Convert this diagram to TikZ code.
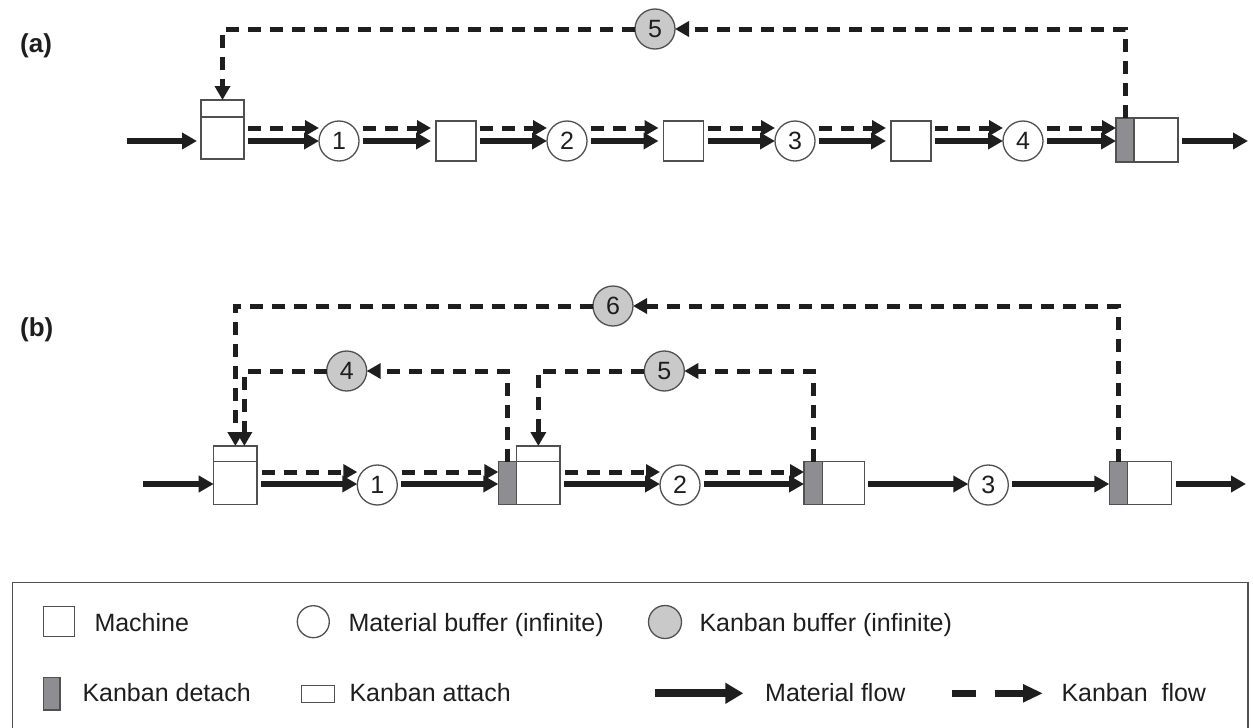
\documentclass[tikz,border=0pt]{standalone}
\usepackage{fontspec}
\setmainfont{Liberation Sans}
\usetikzlibrary{arrows.meta}
\definecolor{ink}{HTML}{1E1E1E}
\definecolor{edgegray}{HTML}{505050}
\definecolor{detachgray}{HTML}{8E8E92}
\definecolor{kbgray}{HTML}{C9C9C9}
\begin{document}
\begin{tikzpicture}[x=1pt,y=-1pt,
  machine/.style={draw=edgegray, line width=1.5pt, fill=white, inner sep=0pt, outer sep=0pt},
  detachbox/.style={machine, fill=detachgray},
  mbuf/.style={circle, draw=edgegray, line width=1.3pt, fill=white, minimum size=40pt,
    inner sep=0pt, outer sep=0pt, text=ink, font=\fontsize{25}{25}\selectfont},
  kbuf/.style={mbuf, fill=kbgray},
  mat/.style={draw=ink, line width=5.4pt, -{Triangle[length=15pt,width=16pt]}, shorten <=4pt},
  kan/.style={draw=ink, line width=5pt, dash pattern=on 13pt off 9pt,
    -{Triangle[length=14pt,width=15pt]}},
  kanloop/.style={kan, shorten <=0pt},
  ltext/.style={anchor=base west, inner sep=0pt, text=ink, font=\fontsize{25}{30}\selectfont},
  tag/.style={anchor=base west, inner sep=0pt, text=ink, font=\fontsize{26}{30}\selectfont\bfseries},
  legendframe/.style={draw=edgegray, line width=1.4pt}]
\useasboundingbox (0,0) rectangle (1253,728);

% ---------------- (a) single-stage kanban loop ----------------
\node[tag] (taga) at (20,52) {(a)};
\coordinate (ma) at (0,141);
\coordinate (ka) at (0,128);

\node[machine, minimum width=43pt, minimum height=42pt] (M1a) at (222.5,138) {};
\node[machine, minimum width=43pt, minimum height=17pt] (A1a) at (222.5,108.5) {};
\node[mbuf] (C1a) at (339,141) {1};
\node[machine, minimum width=40pt, minimum height=40pt] (M2a) at (456,141) {};
\node[mbuf] (C2a) at (567,141) {2};
\node[machine, minimum width=40pt, minimum height=40pt] (M3a) at (683.5,141) {};
\node[mbuf] (C3a) at (795,141) {3};
\node[machine, minimum width=40pt, minimum height=40pt] (M4a) at (911,141) {};
\node[mbuf] (C4a) at (1023,141) {4};
\node[detachbox, minimum width=18pt, minimum height=44pt] (D5a) at (1125,140) {};
\node[machine, minimum width=44pt, minimum height=44pt] (M5a) at (1156,140) {};
\node[kbuf] (K5a) at (655,29) {5};

\coordinate (ina) at (127,141);
\coordinate (outa) at (1248,141);

\draw[mat, shorten <=0pt, shorten >=4pt] (ina) -- (ina -| M1a.west);
\foreach \s/\t/\g in {M1a/C1a/0, C1a/M2a/5, M2a/C2a/0, C2a/M3a/5, M3a/C3a/0, C3a/M4a/5, M4a/C4a/0, C4a/D5a/0}{
  \draw[mat, shorten >=\g pt] (\s.east |- ma) -- (\t.west |- ma);
  \draw[kan, shorten <=4pt, shorten >=\g pt] (\s.east |- ka) -- (\t.west |- ka);
}
\draw[mat] (M5a.east |- ma) -- (outa);

\draw[kanloop] (D5a.north) |- (K5a.east);
\draw[kanloop] (K5a.west) -| (A1a.north);

% ---------------- (b) multi-stage kanban loops ----------------
\node[tag] (tagb) at (20,336) {(b)};
\coordinate (mb) at (0,484);
\coordinate (kb) at (0,472);

\node[machine, minimum width=43.3pt, minimum height=42.6pt] (M1b) at (235.35,483) {};
\node[machine, minimum width=43.3pt, minimum height=15.7pt] (A1b) at (235.35,453.85) {};
\node[mbuf] (C1b) at (377.3,485) {1};
\node[detachbox, minimum width=18.4pt, minimum height=42.6pt] (D2b) at (507.5,483) {};
\node[machine, minimum width=43.3pt, minimum height=42.6pt] (M2b) at (538.35,483) {};
\node[machine, minimum width=43.3pt, minimum height=15.7pt] (A2b) at (538.35,453.85) {};
\node[mbuf] (C2b) at (680,485) {2};
\node[detachbox, minimum width=18.7pt, minimum height=42.6pt] (D3b) at (813.35,483) {};
\node[machine, minimum width=41.6pt, minimum height=42.6pt] (M3b) at (843.5,483) {};
\node[mbuf] (C3b) at (988.3,485) {3};
\node[detachbox, minimum width=18.4pt, minimum height=42.6pt] (D4b) at (1118.5,483) {};
\node[machine, minimum width=44pt, minimum height=42.6pt] (M4b) at (1149.7,483) {};
\node[kbuf] (K4b) at (346.7,371) {4};
\node[kbuf] (K5b) at (664.3,371) {5};
\node[kbuf] (K6b) at (613,306) {6};

\coordinate (inb) at (143,484);
\coordinate (outb) at (1246,484);

\draw[mat, shorten <=0pt] (inb) -- (inb -| M1b.west);
\foreach \s/\t in {M1b/C1b, C1b/D2b, M2b/C2b, C2b/D3b}{
  \draw[mat] (\s.east |- mb) -- (\t.west |- mb);
  \draw[kan, shorten <=5pt] (\s.east |- kb) -- (\t.west |- kb);
}
\foreach \s/\t in {M3b/C3b, C3b/D4b}{
  \draw[mat] (\s.east |- mb) -- (\t.west |- mb);
}
\draw[mat] (M4b.east |- mb) -- (outb);

\draw[kanloop] (D4b.north) |- (K6b.east);
\draw[kanloop] (K6b.west) -| (A1b.north);
\draw[kanloop] (D2b.north) |- (K4b.east);
\draw[kanloop] (K4b.west) -| ([xshift=9pt]A1b.north);
\draw[kanloop] (D3b.north) |- (K5b.east);
\draw[kanloop] (K5b.west) -| (A2b.north);

% ---------------- legend ----------------
\coordinate (lgbl) at (12.7,731);
\coordinate (lgtr) at (1248,582.3);
\draw[legendframe] (lgbl) |- (lgtr) -- (lgtr |- lgbl);

\node[machine, minimum width=31pt, minimum height=30pt] (lgM) at (58.8,621.7) {};
\node[ltext] (lgMt) at (94.3,631.5) {Machine};
\node[mbuf, minimum size=32pt] (lgB) at (313.3,621.7) {};
\node[ltext] (lgBt) at (348.3,631.5) {Material buffer (infinite)};
\node[kbuf, minimum size=33pt] (lgK) at (665,622) {};
\node[ltext] (lgKt) at (699.3,631.5) {Kanban buffer (infinite)};

\node[detachbox, minimum width=16.7pt, minimum height=32.7pt] (lgD) at (51.65,693.65) {};
\node[ltext] (lgDt) at (82.3,701.5) {Kanban detach};
\node[machine, minimum width=32.6pt, minimum height=17pt] (lgA) at (318,694.2) {};
\node[ltext] (lgAt) at (349.3,701.5) {Kanban attach};

\coordinate (lgm1) at (655,693.3);
\coordinate (lgm2) at (743.3,693.3);
\draw[draw=ink, line width=8pt, -{Triangle[length=18pt,width=20pt]}] (lgm1) -- (lgm2);
\node[ltext] (lgmt) at (765,701.5) {Material flow};

\coordinate (lgk1) at (952.3,693.3);
\coordinate (lgk2) at (976.3,693.3);
\coordinate (lgk3) at (994.7,693.3);
\coordinate (lgk4) at (1043,693.3);
\draw[draw=ink, line width=7.5pt] (lgk1) -- (lgk2);
\draw[draw=ink, line width=7.5pt, -{Triangle[length=20pt,width=17pt]}] (lgk3) -- (lgk4);
\node[ltext] (lgkt) at (1061.3,701.5) {Kanban\ \ flow};
\end{tikzpicture}
\end{document}
